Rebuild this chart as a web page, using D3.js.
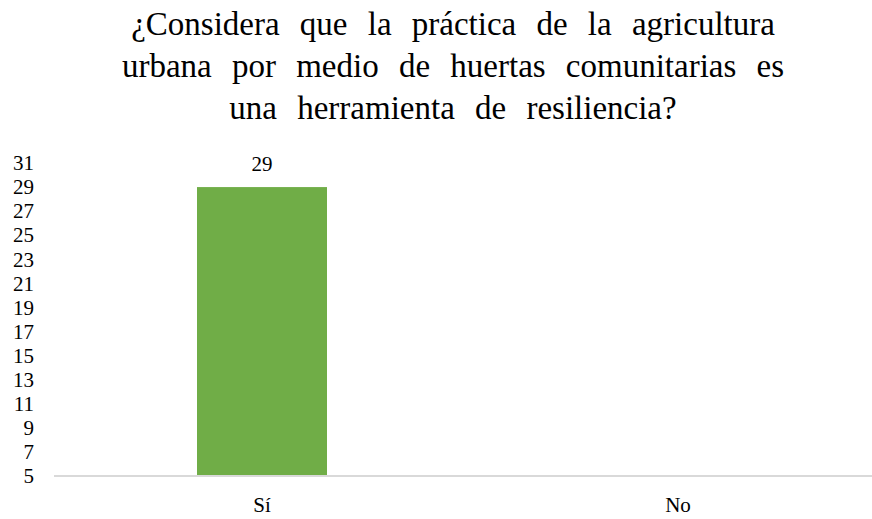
<!DOCTYPE html>
<html><head><meta charset="utf-8">
<script src="https://cdn.jsdelivr.net/npm/d3@7"></script>
<style>body{margin:0;background:#fff}svg{display:block}</style>
</head><body>
<svg id="c" width="872" height="519"></svg>
<script>
const categories = ["Sí", "No"];
const values = [29, 0];
const yTicks = [5, 7, 9, 11, 13, 15, 17, 19, 21, 23, 25, 27, 29, 31];
const titleLines = ["¿Considera que la práctica de la agricultura", "urbana por medio de huertas comunitarias es", "una herramienta de resiliencia?"];

(function () {
const svg = d3.select("#c");
const fam = "Liberation Serif";
const plotL = 54, plotR = 886, plotT = 163, plotB = 476;
const titleWidths = [645, 665, 466];

const x = d3.scaleBand().domain(categories).range([plotL, plotR]).padding(0);
const y = d3.scaleLinear().domain([5, 31]).range([plotB, plotT]);

svg.append("g").selectAll("text").data(titleLines).join("text")
  .attr("x", 453).attr("y", (d, i) => 35 + i * 42)
  .attr("text-anchor", "middle").attr("font-family", fam).attr("font-size", 33)
  .attr("fill", "#000").text(d => d)
  .each(function (d, i) {
    const w = this.getComputedTextLength();
    const n = d.split(" ").length - 1;
    const ws = Math.max(0, Math.min(12, (titleWidths[i] - w) / n));
    d3.select(this).attr("word-spacing", ws);
  });

const yAxis = d3.axisLeft(y).tickValues(yTicks).tickSize(0).tickPadding(0);
const ga = svg.append("g").attr("transform", `translate(34,0)`).call(yAxis);
ga.attr("font-family", fam);
ga.select(".domain").remove();
ga.selectAll("text").attr("font-family", fam).attr("font-size", 21).attr("fill", "#000");

const barW = x.bandwidth() * 0.3125;
const data = categories.map((c, i) => ({c, v: values[i]})).filter(d => d.v > 5);
svg.append("g").selectAll("rect").data(data).join("rect")
  .attr("x", d => x(d.c) + x.bandwidth() / 2 - barW / 2)
  .attr("width", barW)
  .attr("y", d => y(d.v))
  .attr("height", d => y(5) - y(d.v))
  .attr("fill", "#70ad47");

svg.append("g").selectAll("text").data(data).join("text")
  .attr("x", d => x(d.c) + x.bandwidth() / 2)
  .attr("y", d => y(d.v) - 16)
  .attr("text-anchor", "middle").attr("font-family", fam).attr("font-size", 21)
  .text(d => d.v);

svg.append("line").attr("x1", plotL).attr("x2", 872).attr("y1", y(5)).attr("y2", y(5))
  .attr("stroke", "#d9d9d9").attr("stroke-width", 2);

const xAxis = d3.axisBottom(x).tickSize(0).tickPadding(21);
const gx = svg.append("g").attr("transform", `translate(0,${plotB})`).call(xAxis);
gx.attr("font-family", fam);
gx.select(".domain").remove();
gx.selectAll("text").attr("font-family", fam).attr("font-size", 21).attr("fill", "#000");
})();
</script>
</body></html>
